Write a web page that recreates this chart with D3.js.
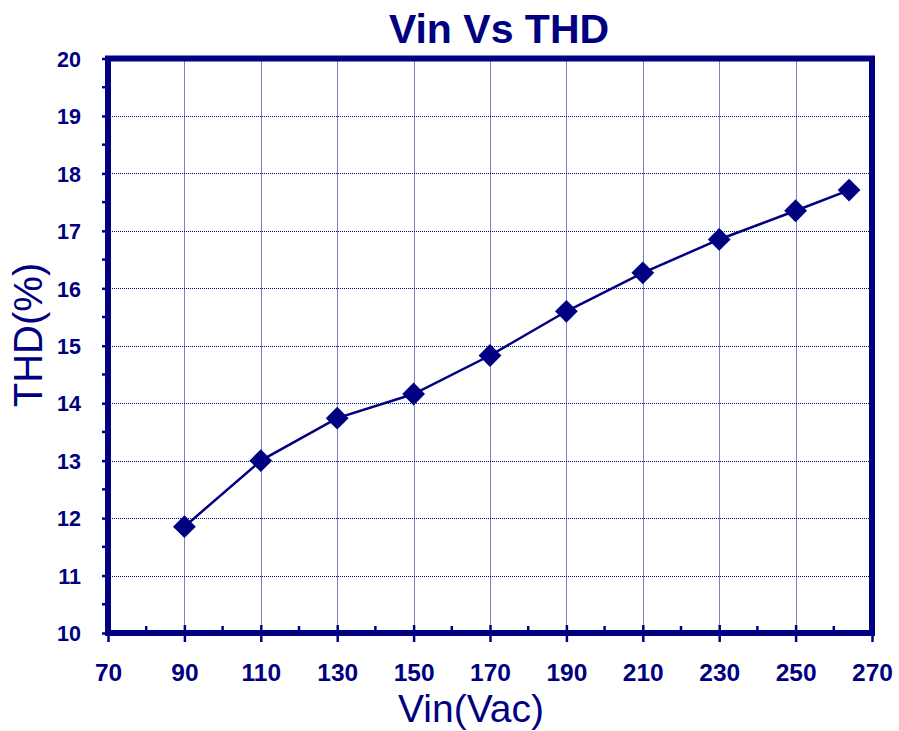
<!DOCTYPE html>
<html>
<head>
<meta charset="utf-8">
<script src="https://cdn.jsdelivr.net/npm/d3@7"></script>
<style>
  html, body { margin: 0; padding: 0; background: #fff; }
  svg { display: block; }
</style>
</head>
<body>
<svg id="chart" width="899" height="731"></svg>
<script>
// ---- data ----
const vin = [90, 110, 130, 150, 170, 190, 210, 230, 250, 264];
const thd = [11.85, 13.0, 13.74, 14.16, 14.83, 15.6, 16.27, 16.85, 17.35, 17.71];
const xTicks = [70, 90, 110, 130, 150, 170, 190, 210, 230, 250, 270];
const yTicks = [10, 11, 12, 13, 14, 15, 16, 17, 18, 19, 20];
const xMinor = [80, 100, 120, 140, 160, 180, 200, 220, 240, 260];
const yMinor = [10.5, 11.5, 12.5, 13.5, 14.5, 15.5, 16.5, 17.5, 18.5, 19.5];
const title = "Vin Vs THD";
const xTitle = "Vin(Vac)";
const yTitle = "THD(%)";

const navy = "#000080";
const font = "'Liberation Sans', Arial, sans-serif";

const svg = d3.select("#chart");
const L = 108, R = 872, T = 58.5, B = 633;
const x = d3.scaleLinear().domain([70, 270]).range([L, R]);
const y = d3.scaleLinear().domain([10, 20]).range([B, T]);

// gridlines
const grid = svg.append("g");
grid.selectAll("line.vg").data(xTicks.filter(d => d > 70 && d < 270)).enter().append("line")
  .attr("x1", d => Math.round(x(d)) + 0.5).attr("x2", d => Math.round(x(d)) + 0.5).attr("y1", T).attr("y2", B)
  .attr("stroke", navy).attr("stroke-width", 1).attr("stroke-dasharray", "1,1");
grid.selectAll("line.hg").data(yTicks.filter(d => d > 10 && d < 20)).enter().append("line")
  .attr("y1", d => Math.round(y(d)) + 0.5).attr("y2", d => Math.round(y(d)) + 0.5).attr("x1", L).attr("x2", R)
  .attr("stroke", navy).attr("stroke-width", 1).attr("stroke-dasharray", "1,1");

// x axis ticks (major cross the axis, minor inward)
const xAxisG = svg.append("g").attr("transform", `translate(0,${B})`)
  .call(d3.axisBottom(x).tickValues(xTicks).tickSize(9).tickSizeOuter(0));
xAxisG.select(".domain").remove();
xAxisG.selectAll(".tick line").attr("stroke", navy).attr("stroke-width", 2.5).attr("y1", -8);
xAxisG.selectAll(".tick text").attr("fill", navy).attr("font-family", font)
  .attr("font-weight", "bold").attr("font-size", 24.5).attr("dy", 0).attr("y", 48);

svg.append("g").selectAll("line").data(xMinor).enter().append("line")
  .attr("x1", d => x(d)).attr("x2", d => x(d)).attr("y1", B - 7).attr("y2", B)
  .attr("stroke", navy).attr("stroke-width", 2.5);

// y axis ticks
const yAxisG = svg.append("g").attr("transform", `translate(${L},0)`)
  .call(d3.axisLeft(y).tickValues(yTicks).tickSize(6).tickSizeOuter(0).tickPadding(21));
yAxisG.select(".domain").remove();
yAxisG.selectAll(".tick line").attr("stroke", navy).attr("stroke-width", 2.5);
yAxisG.selectAll(".tick text").attr("fill", navy).attr("font-family", font)
  .attr("font-weight", "bold").attr("font-size", 21.5).attr("dy", "0.36em");

svg.append("g").selectAll("line").data(yMinor).enter().append("line")
  .attr("y1", d => y(d)).attr("y2", d => y(d)).attr("x1", L - 6).attr("x2", L)
  .attr("stroke", navy).attr("stroke-width", 2.5);

// frame
svg.append("rect").attr("x", L).attr("y", T).attr("width", R - L).attr("height", B - T)
  .attr("fill", "none").attr("stroke", navy).attr("stroke-width", 6);

// line
const line = d3.line().x((d, i) => x(vin[i])).y(d => y(d));
svg.append("path").datum(thd).attr("d", line)
  .attr("fill", "none").attr("stroke", navy).attr("stroke-width", 2.5);

// markers
const sym = d3.symbol().type(d3.symbolSquare).size(260);
svg.append("g").selectAll("path").data(thd).enter().append("path")
  .attr("d", sym)
  .attr("transform", (d, i) => `translate(${x(vin[i])},${y(d)}) rotate(45)`)
  .attr("fill", navy);

// titles
svg.append("text").attr("x", 499).attr("y", 43).attr("text-anchor", "middle")
  .attr("font-family", font).attr("font-weight", "bold").attr("font-size", 41)
  .attr("fill", navy).text(title);
svg.append("text").attr("x", 471).attr("y", 722).attr("text-anchor", "middle")
  .attr("font-family", font).attr("font-size", 39).attr("fill", navy).text(xTitle);
svg.append("text").attr("transform", "translate(42,335) rotate(-90)").attr("text-anchor", "middle")
  .attr("font-family", font).attr("font-size", 40).attr("fill", navy).text(yTitle);
</script>
</body>
</html>
